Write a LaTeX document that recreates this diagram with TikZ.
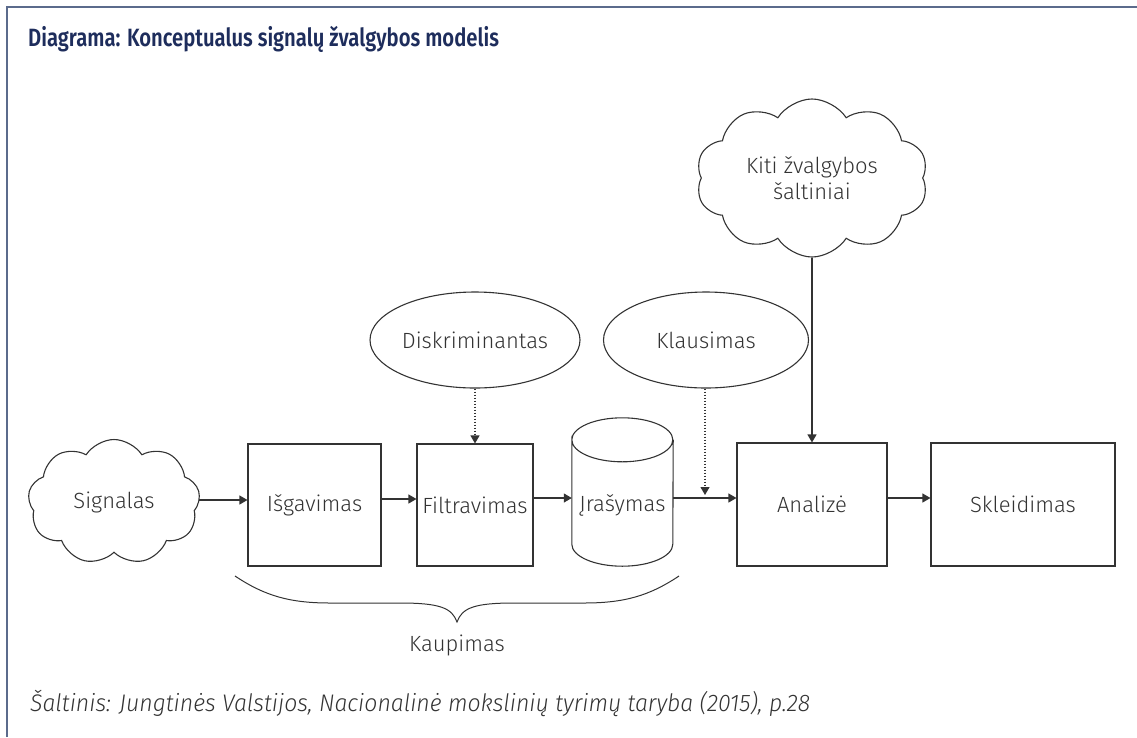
\documentclass[tikz,border=0pt]{standalone}
\usepackage{fontspec}
\setmainfont{Fira Sans}[UprightFont=* Light, ItalicFont=* Light Italic, BoldFont=* SemiBold]
\usetikzlibrary{shapes.symbols,shapes.geometric,arrows.meta,calc}
\definecolor{frame}{HTML}{5B6B8C}
\definecolor{titleblue}{HTML}{1E2D5C}
\definecolor{ink}{HTML}{333333}
\tikzset{
  lbl/.style={font=\fontsize{22}{26}\selectfont, text=ink, align=center},
  boxnode/.style={draw=ink, line width=1.1pt, rectangle, lbl, inner sep=0pt},
  ellnode/.style={draw=ink, line width=1.1pt, ellipse, lbl, inner sep=0pt},
  cloudnode/.style={draw=ink, line width=1.1pt, cloud, cloud puffs=9, cloud puff arc=115, aspect=1.4, lbl, inner sep=0pt},
  arr/.style={draw=ink, line width=1.1pt, -{Triangle[length=8pt,width=9pt]}},
  dotarr/.style={arr, dash pattern=on 1.6pt off 1.4pt},
}
\begin{document}
\begin{tikzpicture}[x=1pt,y=-1pt]
\useasboundingbox (0,0) rectangle (1137,737);
% frame
\draw[frame, line width=2pt] (7,737) -- (7,7) -- (1137,7);
% title
\node[anchor=base west, inner sep=0pt, text=titleblue, font=\fontsize{25}{29}\selectfont\bfseries] (title) at (28,46) {\scalebox{0.81}[1]{Diagrama: Konceptualus signalų žvalgybos modelis}};
% nodes
\node[cloudnode, minimum width=172pt, minimum height=125pt] (sig) at (114,502) {Signalas};
\node[boxnode, minimum width=133pt, minimum height=122pt] (isg) at (314.5,505) {Išgavimas};
\node[boxnode, minimum width=116pt, minimum height=122pt] (fil) at (475,505) {Filtravimas};
\node[rectangle, inner sep=0pt, minimum width=101pt, minimum height=122pt, lbl] (ira) at (622.5,505) {Įrašymas};
\draw[ink, line width=1.1pt]
  ($(ira.north west)+(0,-4)$) arc[start angle=180, end angle=0, x radius=50.5pt, y radius=22pt]
  arc[start angle=0, end angle=-180, x radius=50.5pt, y radius=22pt]
  -- ($(ira.south west)+(0,-22)$) arc[start angle=180, end angle=360, x radius=50.5pt, y radius=22pt]
  -- ($(ira.north east)+(0,-4)$);
\node[boxnode, minimum width=150pt, minimum height=123pt] (ana) at (812,504.5) {Analizė};
\node[boxnode, minimum width=184pt, minimum height=123pt] (skl) at (1023,504.5) {Skleidimas};
\node[ellnode, minimum width=210pt, minimum height=96pt] (dis) at (475,340) {Diskriminantas};
\node[ellnode, minimum width=205pt, minimum height=96pt] (kla) at (706,340) {Klausimas};
\node[cloudnode, cloud puffs=10, minimum width=232pt, minimum height=155pt] (kit) at (812,178) {Kiti žvalgybos\\šaltiniai};
% connectors
\draw[arr] (sig.east |- 0,500) -- (isg.west |- 0,500);
\draw[arr] (isg.east |- 0,499) -- (fil.west |- 0,499);
\draw[arr] (fil.east |- 0,498) -- (ira.west |- 0,498);
\draw[arr] (ira.east |- 0,498) -- (ana.west |- 0,498);
\draw[arr] (ana.east |- 0,498) -- (skl.west |- 0,498);
\coordinate (kend) at (705,495);
\draw[dotarr] (kla.south -| kend) -- (kend);
\draw[dotarr] (dis.south) -- (fil.north);
\draw[arr] (kit.south -| ana.north) -- (ana.north);
% brace
\node[lbl, inner sep=0pt] (kau) at (457,645) {Kaupimas};
\draw[ink, line width=1pt] (235,576) .. controls (265,596) and (290,603) .. (330,603) -- (400,603) .. controls (440,603) and (452,608) .. (457,622)
  .. controls (462,608) and (474,603) .. (514,603) -- (584,603) .. controls (624,603) and (649,596) .. (679,576);
% source
\node[anchor=base west, inner sep=0pt, text=ink, font=\fontsize{24}{28}\selectfont\itshape] (src) at (30,711) {\scalebox{0.96}[1]{Šaltinis: Jungtinės Valstijos, Nacionalinė mokslinių tyrimų taryba (2015), p.28}};
\end{tikzpicture}
\end{document}
